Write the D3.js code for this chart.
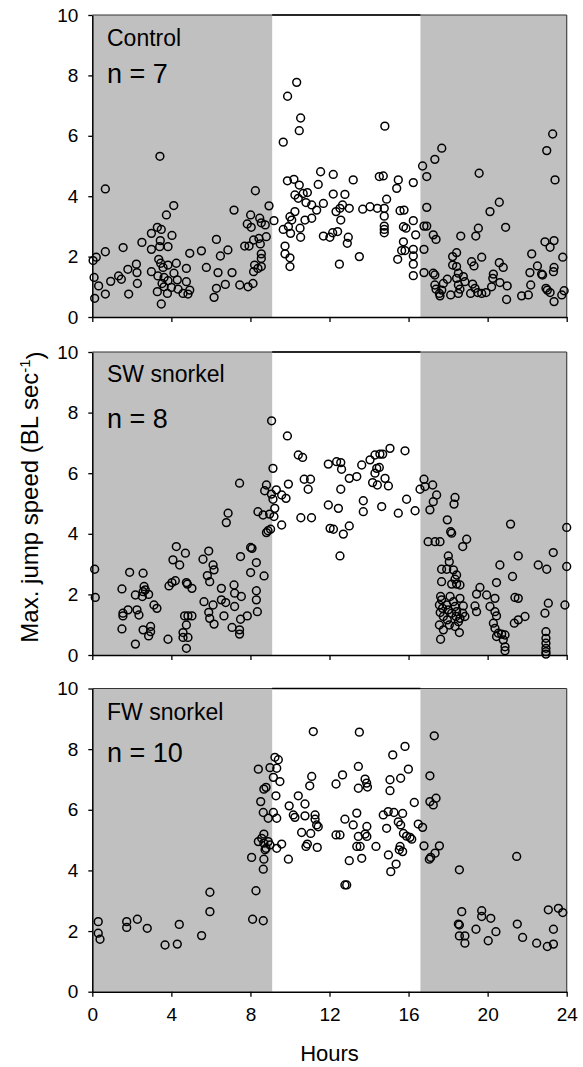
<!DOCTYPE html>
<html>
<head>
<meta charset="utf-8">
<title>Max. jump speed</title>
<style>
body { margin: 0; background: #fff; }
svg { font-family: Arial, "Liberation Sans", sans-serif; }
</style>
</head>
<body>
<svg width="583" height="1067"></svg>
<script src="https://d3js.org/d3.v7.min.js"></script>
<script>

// values: [hour, max jump speed]
var controlPts = [
  [0.66,4.24],[0.04,1.87],[0.2,1.98],[0.66,2.16],[0.09,1.31],[0.32,1.03],[0.12,0.62],[0.66,0.76],[0.93,1.18],[1.33,1.36],
  [1.47,1.25],[1.56,2.30],[1.84,0.76],[1.80,1.58],[2.23,1.75],[2.26,1.47],[2.28,1.11],[2.51,2.47],[2.99,2.77],[2.99,2.24],
  [3.29,2.97],[3.49,2.90],[3.44,2.53],[3.41,2.33],[3.75,3.38],[4.12,3.69],[4.03,2.70],[3.83,2.33],[3.36,1.91],[3.46,1.78],
  [3.58,1.64],[3.83,1.72],[4.25,1.78],[2.99,1.50],[3.32,1.36],[3.63,1.31],[3.53,1.11],[3.83,1.20],[4.13,1.45],[4.30,1.23],
  [3.63,1.00],[4.0,0.98],[4.34,0.92],[3.29,0.84],[3.80,0.78],[3.49,0.43],[4.59,0.78],[4.84,0.76],[4.93,0.89],[4.76,1.17],
  [4.76,1.61],[4.93,2.11],[5.52,2.19],[5.77,1.64],[6.28,2.57],[6.48,2.02],[6.36,1.47],[6.28,0.95],[6.16,0.65],[6.73,1.08],
  [6.86,2.22],[7.07,1.47],[7.17,3.54],[7.46,1.06],[7.88,1.00],[8.13,1.11],[7.71,2.35],[7.93,2.35],[8.16,2.55],[8.43,2.60],
  [8.16,1.50],[8.21,1.72],[8.38,1.61],[8.55,1.67],[8.55,1.94],[8.55,2.09],[8.50,2.42],[8.80,2.66],[8.25,4.18],[7.84,3.08],
  [8.04,2.97],[8.01,3.38],[8.47,3.27],[8.55,3.12],[8.75,3.05],[8.94,3.68],[9.19,3.19],[3.42,5.32],
  [9.88,7.31],[10.34,7.77],[10.54,6.59],[10.47,6.17],[9.66,5.79],
  [9.87,4.51],[10.2,4.56],[10.47,4.37],[10.25,4.04],[10.42,3.93],[10.67,4.09],[10.88,4.12],[10.81,3.79],[11.1,3.71],[11.35,3.54],
  [11.1,3.27],[10.76,3.21],[10.25,3.49],[10.09,3.21],[10.0,3.32],[9.92,2.99],[9.66,2.90],[10.03,2.77],[10.51,2.94],[10.54,2.64],
  [9.75,2.35],[9.75,2.09],[10.0,1.96],[10.0,1.67],[11.55,4.81],[11.43,4.39],[12.19,4.72],[12.19,4.07],[11.69,3.76],[12.33,3.49],
  [12.53,3.60],[12.66,3.71],[12.78,4.06],[13.0,3.60],[12.57,3.21],[13.2,4.54],[11.69,2.68],[12.02,2.64],[12.16,2.79],[12.41,2.83],
  [12.95,2.64],[12.9,2.44],[12.5,1.75],[13.51,2.0],[13.68,3.57],[14.05,3.65],[14.42,3.60],[14.52,4.65],[14.72,4.67],[14.89,3.90],
  [14.77,3.60],[14.77,3.34],[14.77,3.01],[14.77,2.90],[14.77,2.79],[15.48,4.54],[15.4,4.26],[16.24,4.45],[15.57,3.52],[15.77,3.54],
  [15.74,2.99],[15.87,2.94],[16.24,3.19],[16.36,2.72],[15.74,2.49],[15.65,2.20],[15.82,2.20],[15.45,1.91],[16.24,2.24],[16.24,2.02],
  [16.24,1.75],[16.24,1.37],[16.71,5.0],[16.92,4.65],[16.92,3.63],[16.78,3.01],[16.92,3.01],[16.78,2.24],[16.78,1.47],[14.8,6.32],
  [17.33,5.22],[17.68,5.59],[17.25,2.72],[17.39,2.57],[17.25,1.45],[17.33,1.39],[17.33,1.06],[17.39,0.92],[17.56,0.78],[17.68,0.89],
  [17.76,1.11],[17.96,1.25],[17.59,0.70],[18.13,0.73],[18.23,2.0],[18.43,2.13],[18.23,1.72],[18.43,1.67],[18.52,1.45],[18.43,1.28],
  [18.52,1.06],[18.6,0.92],[18.52,0.78],[18.64,2.68],[18.77,1.34],[18.85,1.17],[19.19,1.83],[19.31,1.69],[19.24,1.09],[19.36,0.95],
  [19.14,0.78],[19.5,0.81],[19.7,0.78],[19.92,0.81],[19.7,1.98],[19.4,2.68],[19.53,2.94],[19.57,4.76],[20.12,3.49],[20.59,3.80],
  [20.91,2.97],[20.59,1.80],[20.79,1.64],[20.29,1.42],[20.26,1.28],[20.2,1.00],[20.62,1.14],[20.99,1.03],[20.96,0.58],[21.72,0.70],
  [22.06,0.73],[22.18,1.06],[22.23,2.09],[22.52,1.69],[22.14,1.47],[22.73,1.42],[22.78,1.39],[22.95,0.95],[23.02,0.89],[23.16,0.81],
  [23.36,0.51],[22.9,2.49],[23.36,2.53],[23.16,2.31],[22.99,5.51],[23.29,6.06],[23.41,4.54],[23.36,1.64],[23.33,1.50],[23.8,1.98],
  [23.75,0.73],[23.87,0.87]
];

var swPts = [
  [0.12,2.83],[0.15,1.90],[1.50,2.18],[1.55,1.38],[1.55,1.29],[1.50,0.86],[1.89,2.73],[1.81,1.49],[2.18,0.36],[2.26,1.49],
  [2.36,1.32],[2.18,1.98],[2.57,2.70],[2.62,2.26],[2.57,2.09],[2.53,1.93],[2.68,2.15],[2.85,2.00],[3.12,1.65],[3.27,1.54],
  [2.57,0.83],[2.95,0.94],[2.95,0.77],[2.85,0.63],[3.83,0.52],[3.88,2.28],[4.03,2.39],[4.2,2.45],[4.08,3.14],[4.25,3.58],
  [4.42,2.97],[4.71,3.36],[4.76,2.39],[4.81,2.34],[5.04,2.20],[4.67,1.29],[4.84,1.29],[5.04,1.29],[4.76,0.99],[4.59,0.74],
  [4.59,0.58],[4.84,0.58],[4.76,0.22],[5.6,3.16],[5.89,3.43],[6.11,2.97],[6.16,2.81],[5.82,2.62],[5.94,2.42],[5.65,1.76],
  [6.11,1.65],[5.89,1.41],[5.94,1.21],[6.16,1.02],[6.53,2.20],[6.53,1.82],[6.75,1.73],[6.66,1.29],[7.07,0.91],[7.45,0.83],
  [7.45,0.69],[7.50,1.18],[7.84,1.29],[7.20,2.04],[7.17,2.31],[7.20,1.60],[7.54,1.93],[7.50,3.25],[8.01,3.55],[8.08,3.52],
  [8.01,2.72],[8.30,3.05],[8.69,2.61],[8.30,2.12],[8.30,1.82],[8.35,1.43],[6.78,4.37],[6.87,4.68],[7.45,5.67],[8.81,4.04],
  [8.89,4.10],[9.02,4.15],[8.38,4.73],[8.64,4.62],[8.97,4.65],[9.19,4.57],[9.23,4.84],[8.72,5.42],[8.81,5.61],[9.06,5.31],
  [9.14,5.14],[9.14,6.16],[9.31,5.45],
  [9.07,7.73],[9.87,7.23],[10.42,6.60],[10.64,6.52],[10.72,5.80],[11.04,5.80],[10.92,5.47],[10.55,4.53],[11.09,4.53],[9.92,5.64],
  [9.8,5.17],[9.58,5.28],[9.58,4.29],
  [11.94,6.30],[12.36,6.38],[12.57,6.35],[12.61,6.13],[12.57,5.47],[13.0,5.83],[13.38,5.89],[13.63,6.27],[14.05,6.44],[14.3,6.60],
  [14.55,6.63],[14.69,6.63],[15.06,6.82],[15.82,6.74],[14.52,6.19],[14.39,6.16],[14.3,6.0],[14.81,5.83],[14.18,5.69],[14.42,5.61],
  [14.98,5.58],[11.94,4.95],[12.45,4.84],[13.71,5.09],[13.71,4.73],[14.64,4.90],[15.48,4.68],[15.9,5.14],[16.33,4.76],[12.03,4.18],
  [12.2,4.15],[12.7,3.99],[13.0,4.26],[12.53,3.27],[16.58,5.47],[16.78,5.80],[16.83,5.56],[17.22,5.61],[17.42,5.28],[17.25,5.06],
  [17.08,4.79],[18.35,5.20],[18.3,4.98],[17.96,4.46],[18.13,4.07],[18.18,4.02],[18.94,3.82],[18.74,3.58],[16.99,3.74],[17.34,3.74],
  [17.59,3.74],[21.16,4.32],[24.0,4.21],[24.0,2.92],[21.55,3.27],[20.62,2.97],[21.26,2.59],[22.56,2.97],[22.99,2.83],[23.32,3.38],
  [23.91,1.65],[20.45,2.39],[21.38,1.90],[21.55,1.87],[21.35,1.05],[21.55,1.16],[21.89,1.27],[23.07,1.71],[22.9,1.38],[22.95,0.77],
  [22.95,0.55],[22.95,0.39],[22.95,0.22],[22.95,0.11],[22.95,0.03],
  [18.01,3.27],[18.06,3.08],[17.67,2.83],[17.93,2.83],[18.27,2.81],[18.43,2.64],[18.35,2.50],[17.67,2.42],[18.18,2.34],[18.43,2.34],
  [18.6,2.31],[17.62,1.93],[18.1,1.93],[17.67,1.82],[17.56,1.65],[17.72,1.54],[17.6,1.40],[17.76,1.27],[17.56,0.99],[17.76,0.83],
  [17.93,1.65],[18.01,1.49],[17.96,1.16],[18.06,0.99],[18.18,1.38],[18.27,1.76],[18.35,1.60],[18.43,1.43],[18.4,1.27],[18.52,1.10],
  [18.35,0.94],[18.6,1.87],[18.77,1.62],[18.74,1.38],[18.85,1.27],[18.6,1.21],[18.57,0.74],[17.62,0.52],[19.36,1.62],[19.44,1.43],
  [19.44,2.01],[19.61,2.23],[19.95,1.98],[20.12,1.60],[20.37,1.87],[20.37,1.43],[20.45,1.29],[20.29,1.05],[20.37,0.88],[20.54,0.72],
  [20.45,0.61],[20.71,0.69],[20.88,0.66],[20.79,0.50],[20.88,0.27],[20.88,0.14]
];

var fwPts = [
  [0.3,2.31],[0.3,1.93],[0.39,1.73],[1.74,2.31],[1.74,2.12],[2.28,2.39],[2.78,2.09],[3.68,1.54],[4.30,1.57],[4.40,2.22],
  [5.53,1.85],[5.95,2.64],[5.95,3.28],[8.11,2.39],[8.65,2.34],[8.28,3.33],[8.06,4.43],[8.40,7.34],[8.65,4.04],[8.68,4.37],
  [8.74,4.68],[8.68,4.90],[8.68,5.20],[8.40,4.95],[8.57,5.06],[8.90,4.95],[8.99,4.84],[8.79,4.73],[8.52,6.27],[8.65,5.91],
  [8.68,6.68],[8.79,6.74],[8.90,5.72],[9.24,7.73],[9.41,7.65],[9.33,7.37],[8.99,7.39],[9.16,7.07],[9.49,6.93],[9.29,6.46],
  [9.16,5.91],[9.33,5.72],[9.58,4.87],[9.33,4.73],[9.96,6.13],[9.92,4.37],
  [11.18,8.58],[10.42,6.46],[10.17,5.83],[10.25,5.75],[10.76,6.19],[10.76,5.80],[10.59,5.25],[10.88,4.87],[10.81,4.79],[11.05,5.22],
  [11.27,5.83],[11.27,5.69],[11.35,5.50],[11.43,5.44],[11.0,6.79],[11.1,7.10],[11.38,4.76],[12.33,6.85],[12.66,7.15],[12.78,5.69],
  [13.2,5.50],[12.33,5.17],[12.53,5.17],[13.0,4.32],[13.38,5.89],[13.46,5.12],[13.38,4.79],[13.55,4.79],[13.63,4.40],[13.8,5.20],
  [13.89,5.12],[13.89,5.45],[14.35,4.79],[13.46,7.43],[13.51,8.56],[13.8,7.01],[13.88,6.88],[13.92,6.75],[13.46,6.71],[12.78,3.52],
  [12.87,3.52],[14.72,5.83],[14.97,5.94],[15.26,5.91],[15.06,6.99],[15.06,6.63],[15.2,7.81],[15.6,7.04],[15.82,8.09],[15.99,7.34],
  [15.7,5.88],[15.48,5.60],[15.6,5.50],[15.74,5.22],[15.9,5.13],[16.07,5.09],[16.16,5.03],[14.89,5.39],[14.98,4.51],[15.1,3.96],
  [15.37,4.21],[15.53,4.68],[15.57,4.79],[15.7,4.62],[16.29,6.24],[16.49,5.53],[16.71,5.42],[16.78,4.81],
  [17.3,8.44],[17.08,7.12],[17.08,6.27],[17.25,6.16],[17.39,6.38],[17.05,4.37],[17.12,4.43],[17.34,4.57],[17.56,4.81],[18.57,4.02],
  [18.69,2.64],[18.52,2.23],[18.57,2.20],[18.57,1.84],[18.85,1.84],[18.85,1.60],[19.41,2.06],[19.7,2.67],[19.7,2.48],[20.16,2.42],
  [20.03,1.68],[20.42,1.98],[21.47,4.46],[21.5,2.23],[21.77,1.79],[22.48,1.60],[23.07,2.70],[23.02,1.49],[23.33,1.57],[23.33,2.06],
  [23.58,2.75],[23.8,2.61]
];

var panelNames = ["Control", "SW snorkel", "FW snorkel"];
var panelN = ["n = 7", "n = 8", "n = 10"];
var panelData = [controlPts, swPts, fwPts];
var hourTicks = [0, 4, 8, 12, 16, 20, 24];
var speedTicks = [0, 2, 4, 6, 8, 10];
var darkPeriods = [[0, 9.1], [16.6, 24]];

var svg = d3.select("svg");

var x = d3.scaleLinear().domain([0, 24]).range([92.3, 566.7]);

var panelTop = [15, 352, 688.5];
var panelBottom = [317, 655, 991.7];
var labelBase = [46, 382, 720];
var nBase = [83, 428, 762];

panelData.forEach(function(pts, i) {
  var y = d3.scaleLinear().domain([0, 10]).range([panelBottom[i], panelTop[i]]);
  var g = svg.append("g");

  g.selectAll("rect.dark")
    .data(darkPeriods)
    .enter().append("rect")
      .attr("class", "dark")
      .attr("x", function(d) { return x(d[0]); })
      .attr("y", y(10))
      .attr("width", function(d) { return x(d[1]) - x(d[0]); })
      .attr("height", y(0) - y(10))
      .attr("fill", "#c0c0c0");

  // top and right frame
  g.append("line")
      .attr("x1", x(0)).attr("x2", x(24))
      .attr("y1", y(10)).attr("y2", y(10))
      .attr("stroke", "#333").attr("stroke-width", 1.2);
  g.append("line")
      .attr("x1", x(darkPeriods[0][1])).attr("x2", x(darkPeriods[1][0]))
      .attr("y1", y(10)).attr("y2", y(10))
      .attr("stroke", "#000").attr("stroke-width", 1.5);
  g.append("line")
      .attr("x1", x(24)).attr("x2", x(24))
      .attr("y1", y(10)).attr("y2", y(0))
      .attr("stroke", "#444").attr("stroke-width", 1.2);

  g.selectAll("circle")
    .data(pts)
    .enter().append("circle")
      .attr("cx", function(d) { return x(d[0]); })
      .attr("cy", function(d) { return y(d[1]); })
      .attr("r", 3.9)
      .attr("fill", "none")
      .attr("stroke", "#000")
      .attr("stroke-width", 1.5);

  var yAxis = g.append("g")
      .attr("transform", "translate(" + x(0) + ",0)")
      .call(d3.axisLeft(y).tickValues(speedTicks).tickSize(4).tickSizeOuter(0).tickPadding(10));
  yAxis.selectAll("text").attr("font-size", 19).attr("font-family", "Arial, 'Liberation Sans', sans-serif").attr("fill", "#000");

  var xAxis = g.append("g")
      .attr("transform", "translate(0," + y(0) + ")")
      .call(d3.axisBottom(x).tickValues(hourTicks).tickSize(5).tickSizeOuter(0).tickPadding(11));
  xAxis.selectAll("text").attr("font-size", 19).attr("font-family", "Arial, 'Liberation Sans', sans-serif").attr("fill", "#000");
  if (i < 2) xAxis.selectAll("text").remove();

  g.selectAll(".domain").attr("stroke-width", 1.5);
  g.selectAll(".tick line").attr("stroke-width", 1.3);

  g.append("text")
      .attr("x", 107).attr("y", labelBase[i])
      .attr("font-size", 23)
      .text(panelNames[i]);

  g.append("text")
      .attr("x", 107).attr("y", nBase[i])
      .attr("font-size", 27)
      .text(panelN[i]);
});

svg.append("text")
    .attr("x", x(12)).attr("y", 1061)
    .attr("text-anchor", "middle")
    .attr("font-size", 22)
    .text("Hours");

var yt = svg.append("text")
    .attr("transform", "translate(38,497) rotate(-90)")
    .attr("text-anchor", "middle")
    .attr("font-size", 24);
yt.append("tspan").text("Max. jump speed (BL sec");
yt.append("tspan").attr("dy", "-0.55em").attr("font-size", 15).text("-1");
yt.append("tspan").attr("dy", "0.55em").text(")");

</script>
</body>
</html>
